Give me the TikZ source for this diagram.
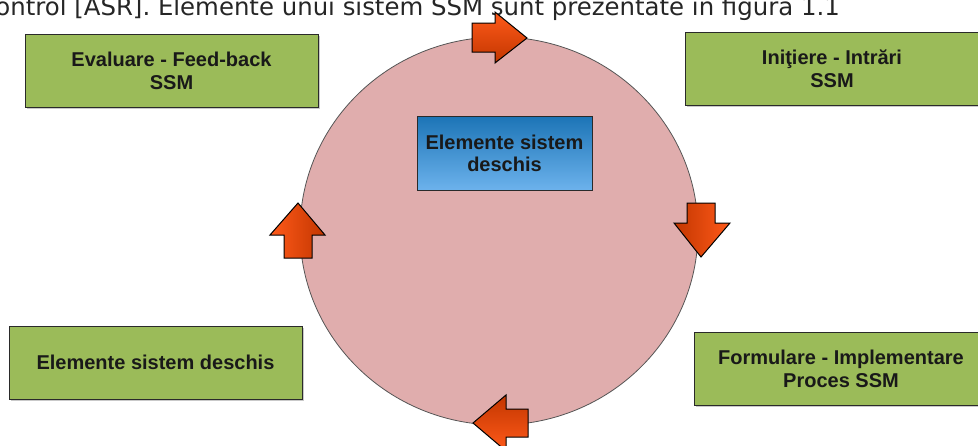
\documentclass[tikz,border=0pt]{standalone}
\usepackage{fontspec}
\setmainfont{Liberation Sans}
\newfontfamily\hdrfont{DejaVu Sans}
\usetikzlibrary{shadows,shapes.geometric}
\definecolor{boxgreen}{HTML}{9BBB59}
\definecolor{ringfill}{HTML}{E0ADAD}
\definecolor{arrowlight}{HTML}{FF5A1A}
\definecolor{arrowdark}{HTML}{C23600}
\definecolor{bluetop}{HTML}{1C74B6}
\definecolor{bluebot}{HTML}{6CB2EC}
\definecolor{edgegray}{HTML}{2A2A2A}
\tikzset{
  labelbox/.style={draw=edgegray, line width=1pt, fill=boxgreen,
    minimum width=293pt, minimum height=73pt, inner sep=0pt, align=center,
    font=\bfseries\fontsize{20}{23}\selectfont, text=black!90,
    drop shadow={shadow xshift=1.5pt, shadow yshift=-1.5pt, opacity=0.35, fill=black!60}},
  centerbox/.style={draw=edgegray, line width=1pt, top color=bluetop, bottom color=bluebot,
    minimum width=175pt, minimum height=74pt, inner sep=0pt, align=center,
    font=\bfseries\fontsize{20}{22}\selectfont, text=black!90},
  ringshape/.style={ellipse, draw=edgegray!80, line width=0.8pt, fill=ringfill,
    minimum width=398pt, minimum height=388pt, inner sep=0pt},
  flowarrow/.style={draw=black, line width=1pt, line join=miter}
}
\begin{document}
\begin{tikzpicture}[x=1pt, y=-1pt]
\clip (0,0) rectangle (978,445);
\fill[white] (0,0) rectangle (978,445);

% header line (cut at the top, as in the source page)
\node[anchor=base east, inner sep=0pt, font=\hdrfont\fontsize{24.4}{28}\selectfont, text=black!85]
  (hdr) at (840,15) {control [ASR]. Elemente unui sistem SSM sunt prezentate în figura 1.1};

% ring
\node[ringshape] (ring) at (499,231) {};

% arrows around the ring
\path[flowarrow, top color=arrowlight, bottom color=arrowdark]
  (472,23) -- (495,23) -- (495,12) -- (527,38) -- (495,63) -- (495,52) -- (472,52) -- cycle;
\path[flowarrow, left color=arrowlight, right color=arrowdark]
  (284,258) -- (284,235) -- (270,235) -- (298,203) -- (325,235) -- (312,235) -- (312,258) -- cycle;
\path[flowarrow, left color=arrowdark, right color=arrowlight]
  (687,203) -- (715,203) -- (715,223) -- (730,223) -- (701,257) -- (674,223) -- (687,223) -- cycle;
\path[flowarrow, top color=arrowdark, bottom color=arrowlight]
  (528,409) -- (506,409) -- (506,395) -- (473,423) -- (506,451) -- (506,437) -- (528,437) -- cycle;

% centre box
\node[centerbox] (centre) at (504.5,153) {Elemente sistem\\deschis};

% outer boxes
\node[labelbox] (evaluare) at (171.5,70.5) {Evaluare - Feed-back\\SSM};
\node[labelbox] (initiere) at (832,68.5) {Iniţiere - Intrări\\SSM};
\node[labelbox] (formulare) at (841,368.5) {Formulare - Implementare\\Proces SSM};
\node[labelbox] (elemente) at (155.5,362.5) {Elemente sistem deschis};
\end{tikzpicture}
\end{document}
